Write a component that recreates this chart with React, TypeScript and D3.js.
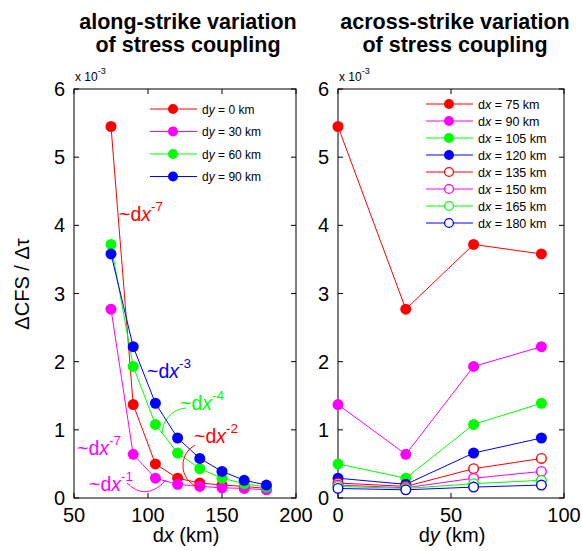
import React from "react";
import * as d3 from "d3";

// along-strike offsets (km) and across-strike offsets (km)
const dxValues = [75, 90, 105, 120, 135, 150, 165, 180];
const dyValues = [0, 30, 60, 90];

// ΔCFS/Δτ (x 1e-3) for each dx, listed over dy = 0, 30, 60, 90 km
const cfsDx75 = [5.45, 2.77, 3.72, 3.58];
const cfsDx90 = [1.37, 0.64, 1.93, 2.22];
const cfsDx105 = [0.5, 0.29, 1.08, 1.39];
const cfsDx120 = [0.29, 0.2, 0.66, 0.88];
const cfsDx135 = [0.22, 0.17, 0.43, 0.58];
const cfsDx150 = [0.19, 0.15, 0.29, 0.39];
const cfsDx165 = [0.17, 0.14, 0.21, 0.26];
const cfsDx180 = [0.14, 0.12, 0.16, 0.19];

const rows = [cfsDx75, cfsDx90, cfsDx105, cfsDx120, cfsDx135, cfsDx150, cfsDx165, cfsDx180];

const dyColors = ["#ff0000", "#ff00ff", "#00ff00", "#0000ff"];
const dxColors = ["#ff0000", "#ff00ff", "#00ff00", "#0000ff", "#ff0000", "#ff00ff", "#00ff00", "#0000ff"];
const dxFilled = [true, true, true, true, false, false, false, false];

const yTicks = [0, 1, 2, 3, 4, 5, 6];
const leftXTicks = [50, 100, 150, 200];
const rightXTicks = [0, 50, 100];

const annotations = [
  { text: "~dx", exp: "-7", color: "#ff0000", x: 119, y: 221 },
  { text: "~dx", exp: "-3", color: "#0000ff", x: 147, y: 378 },
  { text: "~dx", exp: "-4", color: "#00ff00", x: 180, y: 410 },
  { text: "~dx", exp: "-2", color: "#ff0000", x: 194, y: 443 },
  { text: "~dx", exp: "-7", color: "#ff00ff", x: 77, y: 455 },
  { text: "~dx", exp: "-1", color: "#ff00ff", x: 89, y: 491 },
];

const FONT = "'Liberation Sans', Arial, Helvetica, sans-serif";

const yScaleL = d3.scaleLinear().domain([0, 6]).range([498, 89]);
const xScaleL = d3.scaleLinear().domain([50, 200]).range([74, 296]);
const xScaleR = d3.scaleLinear().domain([0, 100]).range([338, 564]);

function Frame({ xs, xTicks }: { xs: d3.ScaleLinear<number, number>; xTicks: number[] }) {
  const [x0, x1] = xs.range();
  const [yb, yt] = yScaleL.range();
  const tl = 5;
  return (
    <g>
      <rect x={x0} y={yt} width={x1 - x0} height={yb - yt} fill="none" stroke="#000" strokeWidth={1} />
      {yTicks.map((t) => (
        <g key={"y" + t}>
          <line x1={x0} x2={x0 + tl} y1={yScaleL(t)} y2={yScaleL(t)} stroke="#000" />
          <line x1={x1} x2={x1 - tl} y1={yScaleL(t)} y2={yScaleL(t)} stroke="#000" />
          <text x={x0 - 9} y={yScaleL(t) + 7} textAnchor="end" fontSize={20} fontFamily={FONT}>
            {t}
          </text>
        </g>
      ))}
      {xTicks.map((t) => (
        <g key={"x" + t}>
          <line x1={xs(t)} x2={xs(t)} y1={yb} y2={yb - tl} stroke="#000" />
          <line x1={xs(t)} x2={xs(t)} y1={yt} y2={yt + tl} stroke="#000" />
          <text x={xs(t)} y={522} textAnchor="middle" fontSize={20} fontFamily={FONT}>
            {t}
          </text>
        </g>
      ))}
      <text x={x0 + 1} y={81} fontSize={12} fontFamily={FONT}>
        x 10<tspan dy={-7} fontSize={9}>-3</tspan>
      </text>
    </g>
  );
}

function Series({ pts, color, filled, r }: { pts: [number, number][]; color: string; filled: boolean; r: number }) {
  const line = d3.line<[number, number]>().x((d) => d[0]).y((d) => d[1]);
  return (
    <g>
      <path d={line(pts) || ""} fill="none" stroke={color} strokeWidth={1} />
      {pts.map((p, i) => (
        <circle
          key={i}
          cx={p[0]}
          cy={p[1]}
          r={filled ? r : r - 0.7}
          fill={filled ? color : "#fff"}
          stroke={color}
          strokeWidth={filled ? 0 : 1.4}
        />
      ))}
    </g>
  );
}

export default function App() {
  const leftSeries = dyValues.map((dy, j) =>
    dxValues.map((dx, i) => [xScaleL(dx), yScaleL(rows[i][j])] as [number, number])
  );
  const rightSeries = rows.map((row) =>
    dyValues.map((dy, j) => [xScaleR(dy), yScaleL(row[j])] as [number, number])
  );

  return (
    <svg
      width={582}
      height={551}
      style={{ position: "fixed", left: 0, top: 0, background: "#fff" }}
      fontFamily={FONT}
    >
      <rect width={582} height={551} fill="#fff" />
      {/* titles */}
      <text x={188} y={29} textAnchor="middle" fontSize={21.5} fontWeight="bold">along-strike variation</text>
      <text x={188} y={52} textAnchor="middle" fontSize={21.5} fontWeight="bold">of stress coupling</text>
      <text x={455} y={29} textAnchor="middle" fontSize={21.5} fontWeight="bold">across-strike variation</text>
      <text x={455} y={52} textAnchor="middle" fontSize={21.5} fontWeight="bold">of stress coupling</text>

      <Frame xs={xScaleL} xTicks={leftXTicks} />
      <Frame xs={xScaleR} xTicks={rightXTicks} />

      {/* axis labels */}
      <text x={186} y={542} textAnchor="middle" fontSize={20}>
        d<tspan fontStyle="italic">x</tspan> (km)
      </text>
      <text x={452} y={542} textAnchor="middle" fontSize={20}>
        d<tspan fontStyle="italic">y</tspan> (km)
      </text>
      <text transform="translate(29,284) rotate(-90)" textAnchor="middle" fontSize={20}>
        ΔCFS / Δτ
      </text>

      {/* left panel series */}
      {leftSeries.map((pts, j) => (
        <Series key={j} pts={pts} color={dyColors[j]} filled={true} r={5.5} />
      ))}

      {/* left legend */}
      {dyValues.map((dy, j) => {
        const y = 109 + j * 22.5;
        return (
          <g key={"ll" + dy}>
            <line x1={150} x2={197} y1={y} y2={y} stroke={dyColors[j]} strokeWidth={1} />
            <circle cx={173} cy={y} r={5} fill={dyColors[j]} />
            <text x={202} y={y + 4.5} fontSize={12}>
              d<tspan fontStyle="italic">y</tspan> = {dy} km
            </text>
          </g>
        );
      })}

      {/* annotations */}
      {annotations.map((a, i) => (
        <text key={"a" + i} x={a.x} y={a.y} fill={a.color} fontSize={19.5}>
          ~d<tspan fontStyle="italic">x</tspan>
          <tspan dy={-10} fontSize={13.5}>{a.exp}</tspan>
        </text>
      ))}
      <path d="M 186 408 A 26 26 0 0 0 162 434" fill="none" stroke="#00ff00" strokeWidth={1} />
      <path d="M 195 445 A 23 23 0 0 0 202 488" fill="none" stroke="#ff0000" strokeWidth={1} />
      <path d="M 127 483 Q 146 502 166 480" fill="none" stroke="#ff00ff" strokeWidth={1} />

      {/* right panel series */}
      {rightSeries.map((pts, i) => (
        <Series key={i} pts={pts} color={dxColors[i]} filled={dxFilled[i]} r={5.5} />
      ))}

      {/* right legend */}
      {dxValues.map((dx, i) => {
        const y = 104 + i * 17;
        return (
          <g key={"rl" + dx}>
            <line x1={426} x2={473} y1={y} y2={y} stroke={dxColors[i]} strokeWidth={1} />
            <circle
              cx={449}
              cy={y}
              r={dxFilled[i] ? 5 : 4.4}
              fill={dxFilled[i] ? dxColors[i] : "#fff"}
              stroke={dxColors[i]}
              strokeWidth={dxFilled[i] ? 0 : 1.3}
            />
            <text x={478} y={y + 4.5} fontSize={12.5}>
              d<tspan fontStyle="italic">x</tspan> = {dx} km
            </text>
          </g>
        );
      })}
    </svg>
  );
}
